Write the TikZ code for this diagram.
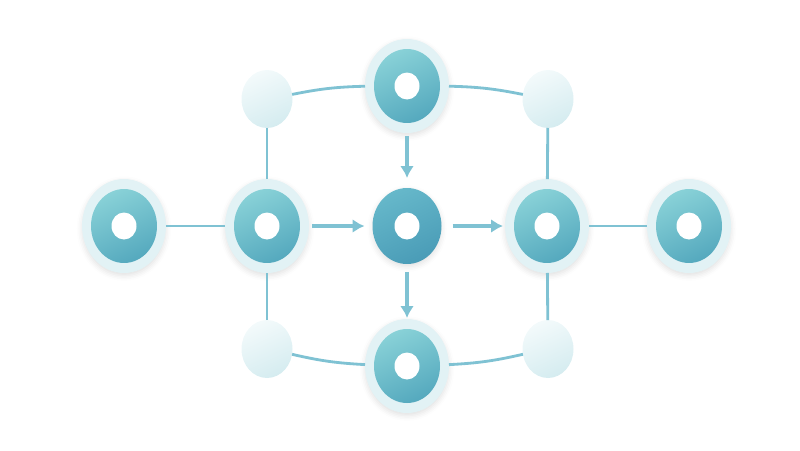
\documentclass[tikz,border=0pt]{standalone}
\usetikzlibrary{positioning,shapes.geometric,arrows.meta,shadows.blur}
\definecolor{halo}{HTML}{E2F2F5}
\definecolor{diskA}{HTML}{88D1D7}
\definecolor{diskB}{HTML}{55A9BE}
\definecolor{hubA}{HTML}{66B8CA}
\definecolor{hubB}{HTML}{4A9CB7}
\definecolor{jointA}{HTML}{F3FAFB}
\definecolor{jointB}{HTML}{D5ECF0}
\definecolor{link}{HTML}{7FC2D3}

\begin{document}
\begin{tikzpicture}[
  x=0.02cm, y=-0.02cm,
  halo/.style={
    ellipse,
    fill=halo,
    draw=none,
    minimum width=1.68cm, minimum height=1.88cm,
    inner sep=0pt, outer sep=0pt,
    blur shadow={shadow xshift=0pt, shadow yshift=-1.5pt, shadow blur radius=3pt, shadow opacity=12}
  },
  disk/.style={
    ellipse,
    top color=diskA, bottom color=diskB, shading angle=25,
    minimum width=1.32cm, minimum height=1.48cm,
    inner sep=0pt, outer sep=0pt
  },
  hub disk/.style={
    disk,
    top color=hubA, bottom color=hubB, shading angle=25,
    minimum width=1.38cm, minimum height=1.52cm,
    blur shadow={shadow xshift=0pt, shadow yshift=-1.5pt, shadow blur radius=3pt, shadow opacity=12}
  },
  hole/.style={
    ellipse,
    fill=white,
    minimum width=0.5cm, minimum height=0.54cm,
    inner sep=0pt, outer sep=0pt
  },
  joint/.style={
    ellipse,
    top color=jointA, bottom color=jointB, shading angle=25,
    minimum width=1.02cm, minimum height=1.16cm,
    inner sep=0pt, outer sep=0pt
  },
  link/.style={draw=link, line width=1.6pt},
  flow/.style={draw=link, line width=2.2pt, -{Latex[length=2.4mm,width=2.8mm]}}
  ]
\useasboundingbox (0,0) rectangle (800,450);
% Center
\node [hub disk] (hub) at (407,226) {};
\node [hole] (hub hole) at (hub) {};
% Left end
\node [halo] (left halo) at (124,226) {};
\node [disk] (left) at (124,226) {};
\node [hole] (left hole) at (left) {};
% Left middle
\node [halo] (west halo) at (267,226) {};
\node [disk] (west) at (267,226) {};
\node [hole] (west hole) at (west) {};
% Right middle
\node [halo] (east halo) at (547,226) {};
\node [disk] (east) at (547,226) {};
\node [hole] (east hole) at (east) {};
% Right end
\node [halo] (right halo) at (689,226) {};
\node [disk] (right) at (689,226) {};
\node [hole] (right hole) at (right) {};
% Top
\node [halo] (top halo) at (407,86) {};
\node [disk] (top) at (407,86) {};
\node [hole] (top hole) at (top) {};
% Bottom
\node [halo] (bottom halo) at (407,366) {};
\node [disk] (bottom) at (407,366) {};
\node [hole] (bottom hole) at (bottom) {};
% Corner joints
\node [joint] (top left) at (267,99) {};
\node [joint] (top right) at (548,99) {};
\node [joint] (bottom left) at (267,349) {};
\node [joint] (bottom right) at (548,349) {};
% Links
\draw [link] (left halo) -- (west halo);
\draw [link] (east halo) -- (right halo);
\draw [link] (top left) -- (west halo);
\draw [link] (top right) -- (east halo);
\draw [link] (bottom left) -- (west halo);
\draw [link] (bottom right) -- (east halo);
\draw [link] (top left) to[bend left=5] (top halo);
\draw [link] (top halo) to[bend left=5] (top right);
\draw [link] (bottom left) to[bend right=5] (bottom halo);
\draw [link] (bottom halo) to[bend right=5] (bottom right);
% Flow
\draw [flow, shorten <=0.06cm, shorten >=0.16cm] (west halo) -- (hub);
\draw [flow, shorten <=0.22cm, shorten >=0.04cm] (hub) -- (east halo);
\draw [flow, shorten <=0.06cm, shorten >=0.2cm] (top halo) -- (hub);
\draw [flow, shorten <=0.16cm, shorten >=0.02cm] (hub) -- (bottom halo);
\end{tikzpicture}
\end{document}
